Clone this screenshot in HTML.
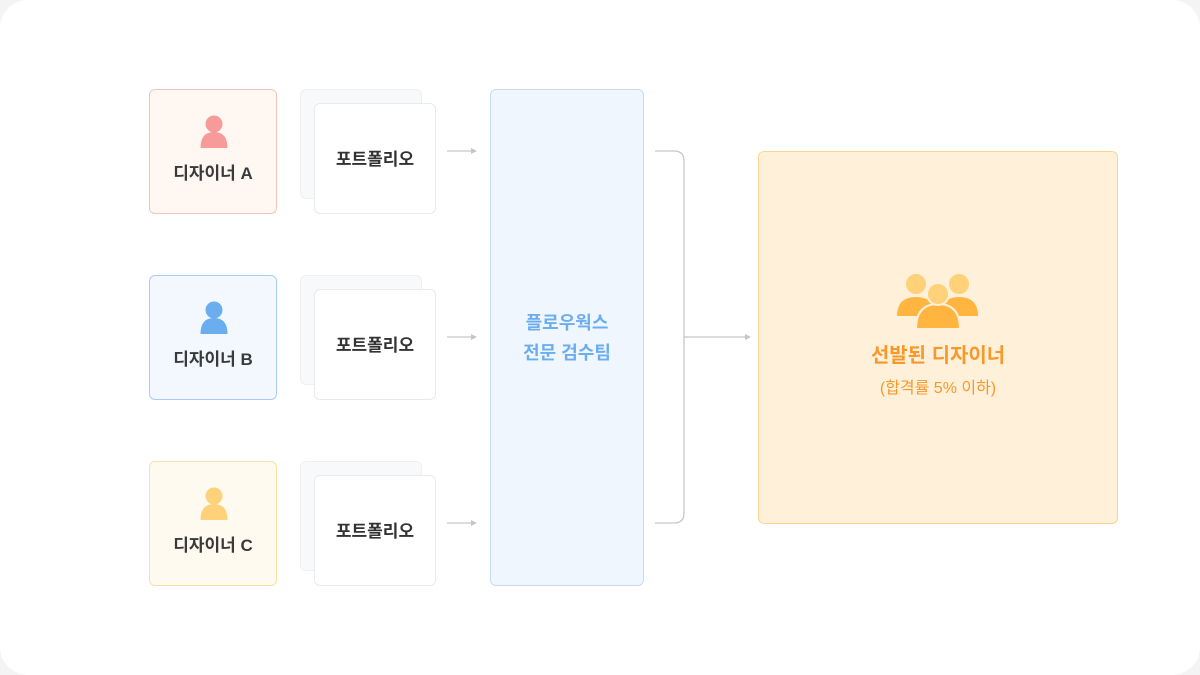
<!DOCTYPE html>
<html><head><meta charset="utf-8"><style>
body{margin:0;width:1200px;height:675px;background:#f4f4f5;font-family:"Liberation Sans","Noto Sans CJK KR",sans-serif;overflow:hidden}
.card{position:absolute;left:0;top:0;width:1200px;height:675px;background:#fff;border-radius:28px}
.abs{position:absolute;box-sizing:border-box}
.des{border-radius:6px;text-align:center;font-weight:bold;font-size:17px;color:#3a3a3a}
.des svg{position:absolute;left:49px;top:25px}
.des span{position:absolute;left:0;right:0;top:69px}
.back{background:#f8f9fa;border:1px solid #eef0f2;border-radius:6px}
.front{background:#fff;border:1px solid #e8eaed;border-radius:6px;display:flex;align-items:center;justify-content:center;font-weight:bold;font-size:17px;color:#333;padding-bottom:3px}
</style></head><body><div class="card"></div>

<div class="abs des" style="left:149px;top:89px;width:128px;height:125px;background:#fff8f2;border:1px solid #f5c3bd"><svg width="30" height="34" viewBox="0 0 30 34"><circle cx="15" cy="9" r="8.5" fill="#f79a9a"/><path d="M1.5 33 Q1.5 17 15 17 Q28.5 17 28.5 33Z" fill="#f79a9a"/></svg><span>디자이너 A</span></div>
<div class="abs des" style="left:149px;top:275px;width:128px;height:125px;background:#f3f8fe;border:1px solid #a9cdf2"><svg width="30" height="34" viewBox="0 0 30 34"><circle cx="15" cy="9" r="8.5" fill="#6aaef0"/><path d="M1.5 33 Q1.5 17 15 17 Q28.5 17 28.5 33Z" fill="#6aaef0"/></svg><span>디자이너 B</span></div>
<div class="abs des" style="left:149px;top:461px;width:128px;height:125px;background:#fffaf0;border:1px solid #f8e0a8"><svg width="30" height="34" viewBox="0 0 30 34"><circle cx="15" cy="9" r="8.5" fill="#ffd27a"/><path d="M1.5 33 Q1.5 17 15 17 Q28.5 17 28.5 33Z" fill="#ffd27a"/></svg><span>디자이너 C</span></div>

<div class="abs back" style="left:300px;top:89px;width:122px;height:110px"></div>
<div class="abs front" style="left:314px;top:103px;width:122px;height:111px">포트폴리오</div>
<div class="abs back" style="left:300px;top:275px;width:122px;height:110px"></div>
<div class="abs front" style="left:314px;top:289px;width:122px;height:111px">포트폴리오</div>
<div class="abs back" style="left:300px;top:461px;width:122px;height:110px"></div>
<div class="abs front" style="left:314px;top:475px;width:122px;height:111px">포트폴리오</div>

<div class="abs" style="left:490px;top:89px;width:154px;height:497px;background:#eff6fe;border:1px solid #c6dcf5;border-radius:6px;display:flex;align-items:center;justify-content:center;text-align:center;color:#6aaef0;font-weight:bold;font-size:18px;line-height:30px">플로우웍스<br>전문 검수팀</div>

<div class="abs" style="left:758px;top:151px;width:360px;height:373px;background:#fff0da;border:1px solid #f8d68f;border-radius:6px"></div>
<svg class="abs" style="left:0;top:0" width="1200" height="675">
<g stroke="#c4c6ca" stroke-width="1.3" fill="none">
<line x1="447" y1="151" x2="472" y2="151"/><line x1="447" y1="337" x2="472" y2="337"/><line x1="447" y1="523" x2="472" y2="523"/>
<path d="M655 151 H674 Q684 151 684 161 V513 Q684 523 674 523 H655"/>
<line x1="684" y1="337" x2="746" y2="337"/>
</g>
<g fill="#c4c6ca"><path d="M477 151 l-6 -3 v6z"/><path d="M477 337 l-6 -3 v6z"/><path d="M477 523 l-6 -3 v6z"/><path d="M751 337 l-6 -3 v6z"/></g>
<g transform="translate(897,272)">
<circle cx="19" cy="12" r="11" fill="#ffd27a" stroke="#fff0da" stroke-width="2"/><path d="M0 44 Q0 25 19 25 Q38 25 38 44Z" fill="#ffb53f"/>
<circle cx="62" cy="12" r="11" fill="#ffd27a" stroke="#fff0da" stroke-width="2"/><path d="M43 44 Q43 25 62 25 Q81 25 81 44Z" fill="#ffb53f"/>
<path d="M19 57 Q19 32 41 32 Q63 32 63 57Z" fill="#ffb53f" stroke="#fff0da" stroke-width="2"/>
<circle cx="41" cy="22" r="11" fill="#ffd27a" stroke="#fff0da" stroke-width="2"/>
</g>
<text x="938" y="362" text-anchor="middle" font-family="Liberation Sans, Noto Sans CJK KR, sans-serif" font-weight="bold" font-size="20" fill="#f7992a">선발된 디자이너</text>
<text x="938" y="393" text-anchor="middle" font-family="Liberation Sans, Noto Sans CJK KR, sans-serif" font-size="16" fill="#f7992a">(합격률 5% 이하)</text>
</svg>
</body></html>
